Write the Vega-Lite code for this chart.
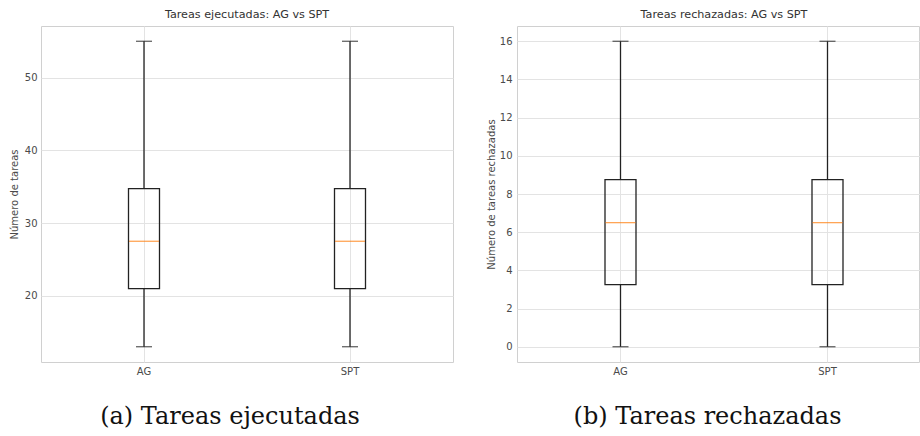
{
  "$schema": "https://vega.github.io/schema/vega-lite/v6.json",
  "padding": {"left": 8, "top": 8, "right": 0, "bottom": 0},
  "spacing": 64,
  "bounds": "flush",
  "config": {
    "view": {"stroke": "#d0d0d0", "strokeWidth": 1},
    "font": "DejaVu Sans",
    "axis": {
      "domain": false, "ticks": false, "grid": true, "gridColor": "#e3e3e3", "gridWidth": 1,
      "labelFont": "DejaVu Sans", "labelFontSize": 10, "labelColor": "#4a4a4a",
      "titleFont": "DejaVu Sans", "titleFontSize": 10, "titleFontWeight": "normal", "titleColor": "#4a4a4a"
    },
    "title": {"font": "DejaVu Sans", "fontSize": 11.2, "fontWeight": "normal", "color": "#333333", "offset": 6}
  },
  "hconcat": [
    {
      "width": 412, "height": 336,
      "title": "Tareas ejecutadas: AG vs SPT",
      "data": {"values": [
        {"grupo": "AG", "min": 13, "q1": 21, "mediana": 27.5, "q3": 34.75, "max": 55},
        {"grupo": "SPT", "min": 13, "q1": 21, "mediana": 27.5, "q3": 34.75, "max": 55}
      ]},
      "encoding": {
        "x": {"field": "grupo", "type": "nominal",
          "scale": {"paddingInner": 0, "paddingOuter": 0},
          "axis": {"labelAngle": 0, "labelPadding": 4, "bandPosition": 0.5,
            "title": "(a) Tareas ejecutadas", "titleFont": "DejaVu Serif", "titleFontSize": 24, "titleColor": "#111111",
            "titlePadding": 28, "titleX": 188.5, "titleAlign": "center", "titleAnchor": null}}
      },
      "layer": [
        {"mark": {"type": "rule", "color": "#222222", "strokeWidth": 1.3},
          "encoding": {
            "y": {"field": "min", "type": "quantitative", "title": "Número de tareas",
              "scale": {"domain": [10.9, 57.1], "nice": false, "zero": false},
              "axis": {"values": [20, 30, 40, 50], "labelPadding": 4, "titlePadding": 5}},
            "y2": {"field": "q1"}}},
        {"mark": {"type": "rule", "color": "#222222", "strokeWidth": 1.3},
          "encoding": {
            "y": {"field": "q3", "type": "quantitative", "title": "Número de tareas"},
            "y2": {"field": "max"}}},
        {"mark": {"type": "bar", "fill": null, "fillOpacity": 0, "stroke": "#222222", "strokeWidth": 1.3, "width": 31},
          "encoding": {
            "y": {"field": "q1", "type": "quantitative", "title": "Número de tareas"},
            "y2": {"field": "q3"}}},
        {"mark": {"type": "tick", "orient": "horizontal", "color": "#ff7f0e", "size": 30, "thickness": 1.3},
          "encoding": {"y": {"field": "mediana", "type": "quantitative", "title": "Número de tareas"}}},
        {"mark": {"type": "tick", "orient": "horizontal", "color": "#222222", "size": 16, "thickness": 1.3},
          "encoding": {"y": {"field": "min", "type": "quantitative", "title": "Número de tareas"}}},
        {"mark": {"type": "tick", "orient": "horizontal", "color": "#222222", "size": 16, "thickness": 1.3},
          "encoding": {"y": {"field": "max", "type": "quantitative", "title": "Número de tareas"}}}
      ]
    },
    {
      "width": 402, "height": 336,
      "title": {"text": "Tareas rechazadas: AG vs SPT", "anchor": "middle", "dx": 6},
      "data": {"values": [
        {"grupo": "AG", "min": 0, "q1": 3.25, "mediana": 6.5, "q3": 8.75, "max": 16},
        {"grupo": "SPT", "min": 0, "q1": 3.25, "mediana": 6.5, "q3": 8.75, "max": 16}
      ]},
      "encoding": {
        "x": {"field": "grupo", "type": "nominal",
          "scale": {"paddingInner": 0, "paddingOuter": 0, "range": [0, 414]},
          "axis": {"labelAngle": 0, "labelPadding": 4, "bandPosition": 0.5,
            "title": "(b) Tareas rechazadas", "titleFont": "DejaVu Serif", "titleFontSize": 24, "titleColor": "#111111",
            "titlePadding": 28, "titleX": 190, "titleAlign": "center", "titleAnchor": null}}
      },
      "layer": [
        {"mark": {"type": "rule", "color": "#222222", "strokeWidth": 1.3},
          "encoding": {
            "y": {"field": "min", "type": "quantitative", "title": "Número de tareas rechazadas",
              "scale": {"domain": [-0.8, 16.8], "nice": false, "zero": false},
              "axis": {"values": [0, 2, 4, 6, 8, 10, 12, 14, 16], "labelPadding": 5, "titlePadding": 3}},
            "y2": {"field": "q1"}}},
        {"mark": {"type": "rule", "color": "#222222", "strokeWidth": 1.3},
          "encoding": {
            "y": {"field": "q3", "type": "quantitative", "title": "Número de tareas rechazadas"},
            "y2": {"field": "max"}}},
        {"mark": {"type": "bar", "fill": null, "fillOpacity": 0, "stroke": "#222222", "strokeWidth": 1.3, "width": 31},
          "encoding": {
            "y": {"field": "q1", "type": "quantitative", "title": "Número de tareas rechazadas"},
            "y2": {"field": "q3"}}},
        {"mark": {"type": "tick", "orient": "horizontal", "color": "#ff7f0e", "size": 30, "thickness": 1.3},
          "encoding": {"y": {"field": "mediana", "type": "quantitative", "title": "Número de tareas rechazadas"}}},
        {"mark": {"type": "tick", "orient": "horizontal", "color": "#222222", "size": 16, "thickness": 1.3},
          "encoding": {"y": {"field": "min", "type": "quantitative", "title": "Número de tareas rechazadas"}}},
        {"mark": {"type": "tick", "orient": "horizontal", "color": "#222222", "size": 16, "thickness": 1.3},
          "encoding": {"y": {"field": "max", "type": "quantitative", "title": "Número de tareas rechazadas"}}}
      ]
    }
  ]
}
